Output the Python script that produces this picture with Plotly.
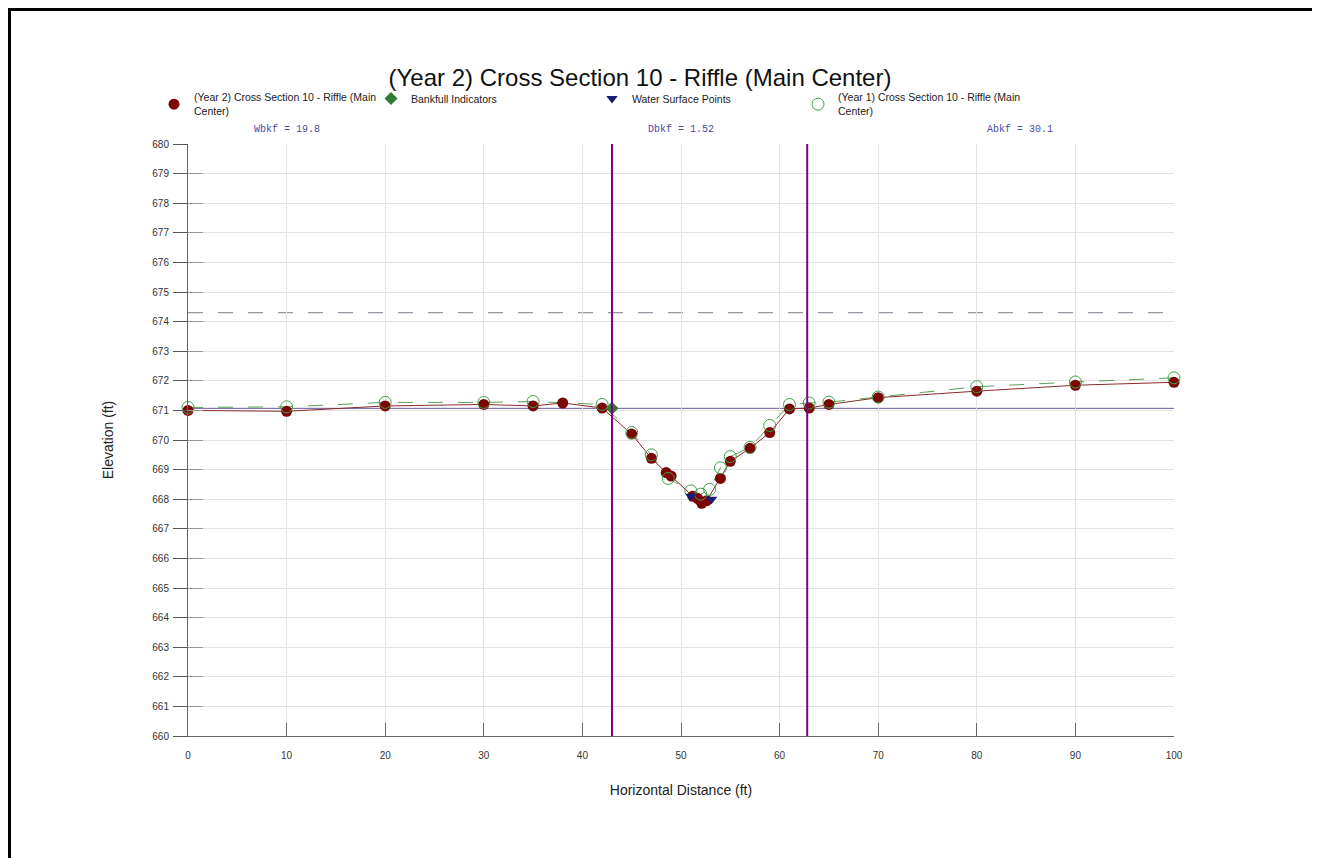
import plotly.graph_objects as go

# ---------------- data ----------------
year2_x = [0, 10, 20, 30, 35, 38, 42, 45, 47, 48.5, 49, 51.2, 51.7, 52.1, 52.6, 54, 55, 57, 59, 61, 63, 65, 70, 80, 90, 100]
year2_y = [671.0, 670.97, 671.15, 671.2, 671.15, 671.25, 671.08, 670.2, 669.38, 668.9, 668.78, 668.1, 668.02, 667.86, 667.95, 668.7, 669.28, 669.72, 670.25, 671.05, 671.08, 671.2, 671.43, 671.65, 671.85, 671.95]

year1_x = [0, 10, 20, 30, 35, 42, 45, 47, 48.7, 51, 52, 52.9, 54, 55, 57, 59, 61, 63, 65, 70, 80, 90, 100]
year1_y = [671.1, 671.12, 671.27, 671.27, 671.3, 671.2, 670.25, 669.5, 668.7, 668.28, 668.17, 668.33, 669.06, 669.44, 669.75, 670.49, 671.2, 671.25, 671.28, 671.45, 671.8, 671.96, 672.1]

bankfull_x = [43.0]
bankfull_y = [671.07]

water_x = [51.0, 53.1]
water_y = [668.1, 668.0]

bkf_stations = [43.0, 62.8]
bkf_elev = 671.07
fpa_elev = 674.3

stats_labels = ["Wbkf = 19.8", "Dbkf = 1.52", "Abkf = 30.1"]

title_text = "(Year 2) Cross Section 10 - Riffle (Main Center)"
name_year2 = "(Year 2) Cross Section 10 - Riffle (Main<br>Center)"
name_year1 = "(Year 1) Cross Section 10 - Riffle (Main<br>Center)"

# ---------------- layout geometry ----------------
# page body has an 8px margin in the browser; figure is offset by it
OFF = 8
W, H = 1320 - OFF, 858 - OFF
PL, PR, PT, PB = 188, 1174, 144, 736          # plot area in window pixels
ML, MT = PL - OFF, PT - OFF
MR = W - ML - (PR - PL)
MB = H - MT - (PB - PT)
PW, PH = PR - PL, PB - PT


def px_x(p):
    return (p - PL) / PW


def px_y(p):
    return (PB - p) / PH


FONT = "Liberation Sans, Arial, sans-serif"
RED = "#7a0606"
GREEN_O = "#43a047"

fig = go.Figure()

# connecting lines (no legend)
fig.add_trace(go.Scatter(x=year1_x, y=year1_y, mode="lines", showlegend=False, hoverinfo="skip",
                         line=dict(color="#5a9e5a", width=1, dash="longdash")))
fig.add_trace(go.Scatter(x=year2_x, y=year2_y, mode="lines", showlegend=False, hoverinfo="skip",
                         line=dict(color="#8a2a2a", width=1)))

fig.add_trace(go.Scatter(
    x=year2_x, y=year2_y, mode="markers", name=name_year2, cliponaxis=False,
    marker=dict(symbol="circle", size=11, color=RED),
    legend="legend",
))
fig.add_trace(go.Scatter(
    x=bankfull_x, y=bankfull_y, mode="markers", name="Bankfull Indicators", cliponaxis=False,
    marker=dict(symbol="diamond", size=10, color="#2e7d32"),
    legend="legend2",
))
fig.add_trace(go.Scatter(
    x=year1_x, y=year1_y, mode="markers", name=name_year1, cliponaxis=False,
    marker=dict(symbol="circle-open", size=12, color=GREEN_O, line=dict(width=1)),
    legend="legend4",
))
fig.add_trace(go.Scatter(
    x=water_x, y=water_y, mode="markers", name="Water Surface Points", cliponaxis=False,
    marker=dict(symbol="triangle-down", size=10, color="#1a1a7a"),
    legend="legend3",
))

# reference lines
shapes = []
for s in bkf_stations:
    shapes.append(dict(type="line", xref="x", yref="paper", x0=s, x1=s, y0=0, y1=1,
                       line=dict(color="#800080", width=2), layer="above"))
shapes.append(dict(type="line", xref="paper", yref="y", x0=0, x1=1, y0=bkf_elev, y1=bkf_elev,
                   line=dict(color="#6a5a9a", width=1), layer="below"))
shapes.append(dict(type="line", xref="paper", yref="y", x0=0, x1=1, y0=fpa_elev, y1=fpa_elev,
                   line=dict(color="#7a7a8a", width=1, dash="longdash"), layer="below"))
# page frame
shapes.append(dict(type="rect", xref="paper", yref="paper",
                   x0=px_x(OFF + 1.5), x1=px_x(1314), y0=px_y(900), y1=px_y(OFF + 1.5),
                   line=dict(color="black", width=3)))

annotations = []
for lbl, cx in zip(stats_labels, [287, 681, 1020]):
    annotations.append(dict(text=lbl, x=px_x(cx), y=px_y(130), xref="paper", yref="paper",
                            xanchor="center", yanchor="middle", showarrow=False,
                            font=dict(family="Liberation Mono, Courier New, monospace",
                                      size=10, color="#4a4aa8")))

leg_common = dict(orientation="h", yanchor="top", y=px_y(84), bgcolor="rgba(0,0,0,0)",
                  font=dict(family=FONT, size=10.5, color="#222"), itemwidth=30,
                  tracegroupgap=0)

fig.update_layout(
    width=W, height=H,
    margin=dict(l=ML, r=MR, t=MT, b=MB, autoexpand=False),
    paper_bgcolor="white", plot_bgcolor="white",
    title=dict(text=title_text, x=px_x(640), xanchor="center", xref="paper",
               y=1 - (78 - OFF) / H, yanchor="middle",
               font=dict(family=FONT, size=24, color="#111")),
    legend=dict(x=px_x(154), **leg_common),
    legend2=dict(x=px_x(371), **leg_common),
    legend3=dict(x=px_x(592), **leg_common),
    legend4=dict(x=px_x(798), **leg_common),
    xaxis=dict(range=[0, 100], dtick=10, tick0=0, showgrid=True, gridcolor="#e2e2e2", gridwidth=1,
               showline=True, linecolor="#666", linewidth=1, zeroline=False,
               ticks="inside", ticklen=13, tickcolor="#666", ticklabelstandoff=10,
               tickfont=dict(family=FONT, size=10, color="#333"),
               title=dict(text="Horizontal Distance (ft)", standoff=25,
                          font=dict(family=FONT, size=14, color="#222"))),
    yaxis=dict(range=[660, 680], dtick=1, tick0=660, showgrid=True, gridcolor="#e2e2e2", gridwidth=1,
               showline=True, linecolor="#666", linewidth=1, zeroline=False,
               ticks="outside", ticklen=14, tickcolor="#555", ticklabelstandoff=2,
               tickfont=dict(family=FONT, size=10, color="#333"),
               title=dict(text="Elevation (ft)", standoff=35,
                          font=dict(family=FONT, size=14, color="#222"))),
    yaxis2=dict(range=[660, 680], dtick=1, tick0=660, overlaying="y", side="left",
                showgrid=False, showticklabels=False, ticks="inside", ticklen=15,
                tickcolor="#999", showline=False, zeroline=False),
    shapes=shapes,
    annotations=annotations,
)

# invisible trace so yaxis2 renders its ticks
fig.add_trace(go.Scatter(x=[None], y=[None], yaxis="y2", showlegend=False, hoverinfo="skip"))

fig.write_html("out.html")
